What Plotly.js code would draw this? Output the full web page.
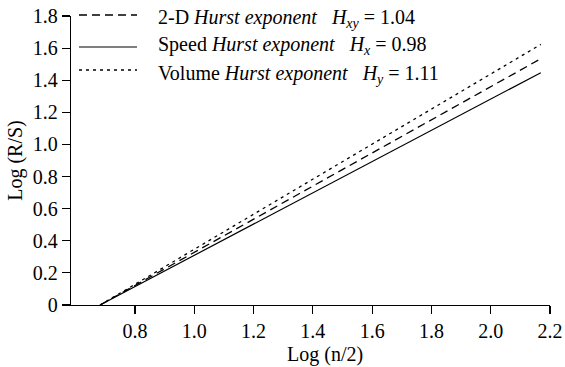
<!DOCTYPE html>
<html>
<head>
<meta charset="utf-8">
<script src="https://cdn.plot.ly/plotly-3.0.1.min.js"></script>
<style>html,body{margin:0;padding:0;background:#fff}#chart{width:565px;height:367px}</style>
</head>
<body>
<div id="chart"></div>
<script>
// Data
const logHalfN = [0.682, 2.169];
const rs2D = [0.0, 1.534];
const rsSpeed = [0.0, 1.447];
const rsVolume = [0.0, 1.623];

const seriesNames = ['2-D', 'Speed', 'Volume'];
const hurstLabels = ['<i>H</i><sub><i>xy</i></sub> = 1.04', '<i>H</i><sub><i>x</i></sub> = 0.98', '<i>H</i><sub><i>y</i></sub> = 1.11'];

const xTickVals = [0.8, 1.0, 1.2, 1.4, 1.6, 1.8, 2.0, 2.2];
const xTickText = ['0.8', '1.0', '1.2', '1.4', '1.6', '1.8', '2.0', '2.2'];
const yTickVals = [0, 0.2, 0.4, 0.6, 0.8, 1.0, 1.2, 1.4, 1.6, 1.8];
const yTickText = ['0', '0.2', '0.4', '0.6', '0.8', '1.0', '1.2', '1.4', '1.6', '1.8'];

const FONT = 'Liberation Serif';
const dashes = ['8px,5px', 'solid', '3px,4px'];

const traces = [
  {x: logHalfN, y: rs2D, name: seriesNames[0], mode: 'lines', line: {color: '#000', width: 1.3, dash: dashes[0]}},
  {x: logHalfN, y: rsSpeed, name: seriesNames[1], mode: 'lines', line: {color: '#000', width: 1.2, dash: dashes[1]}},
  {x: logHalfN, y: rsVolume, name: seriesNames[2], mode: 'lines', line: {color: '#000', width: 1.3, dash: dashes[2]}}
];

const legY = [1.0035, 0.8927, 0.8131];
const legTextY = [0.993, 0.898, 0.799];
const shapes = [];
const annotations = [];
for (let i = 0; i < 3; i++) {
  shapes.push({type: 'line', xref: 'paper', yref: 'paper', x0: 0.0167, x1: 0.1378, y0: legY[i], y1: legY[i],
    line: {color: '#000', width: traces[i].line.width, dash: dashes[i]}});
  annotations.push({xref: 'paper', yref: 'paper', x: 0.1775, y: legTextY[i], xanchor: 'left', yanchor: 'middle',
    showarrow: false, text: seriesNames[i] + ' <i>Hurst exponent</i>\u00a0\u00a0\u00a0' + hurstLabels[i],
    font: {family: FONT, size: 20, color: '#000'}});
}
annotations.push({xref: 'paper', yref: 'paper', x: 0.5306, y: -0.1696, xanchor: 'center', yanchor: 'middle',
  showarrow: false, text: 'Log (n/2)', font: {family: FONT, size: 20, color: '#000'}});

const layout = {
  width: 565, height: 367,
  margin: {l: 71, r: 15, t: 16, b: 62, pad: 0},
  paper_bgcolor: '#fff', plot_bgcolor: '#fff',
  showlegend: false,
  font: {family: FONT, size: 20, color: '#000'},
  xaxis: {
    range: [0.584, 2.2], showgrid: false, zeroline: false,
    showline: true, linecolor: '#000', linewidth: 1.3,
    ticks: 'outside', ticklen: 8, tickwidth: 1.2, tickcolor: '#000',
    tickvals: xTickVals, ticktext: xTickText,
    tickfont: {family: FONT, size: 20, color: '#000'}
  },
  yaxis: {
    range: [0, 1.8], showgrid: false, zeroline: false,
    showline: true, linecolor: '#000', linewidth: 1.3,
    ticks: 'outside', ticklen: 8, tickwidth: 1.2, tickcolor: '#000',
    tickvals: yTickVals, ticktext: yTickText,
    tickfont: {family: FONT, size: 20, color: '#000'},
    title: {text: 'Log (R/S)', font: {family: FONT, size: 20, color: '#000'}, standoff: 4}
  },
  shapes: shapes,
  annotations: annotations
};

Plotly.newPlot('chart', traces, layout, {displayModeBar: false, staticPlot: true});
</script>
</body>
</html>
